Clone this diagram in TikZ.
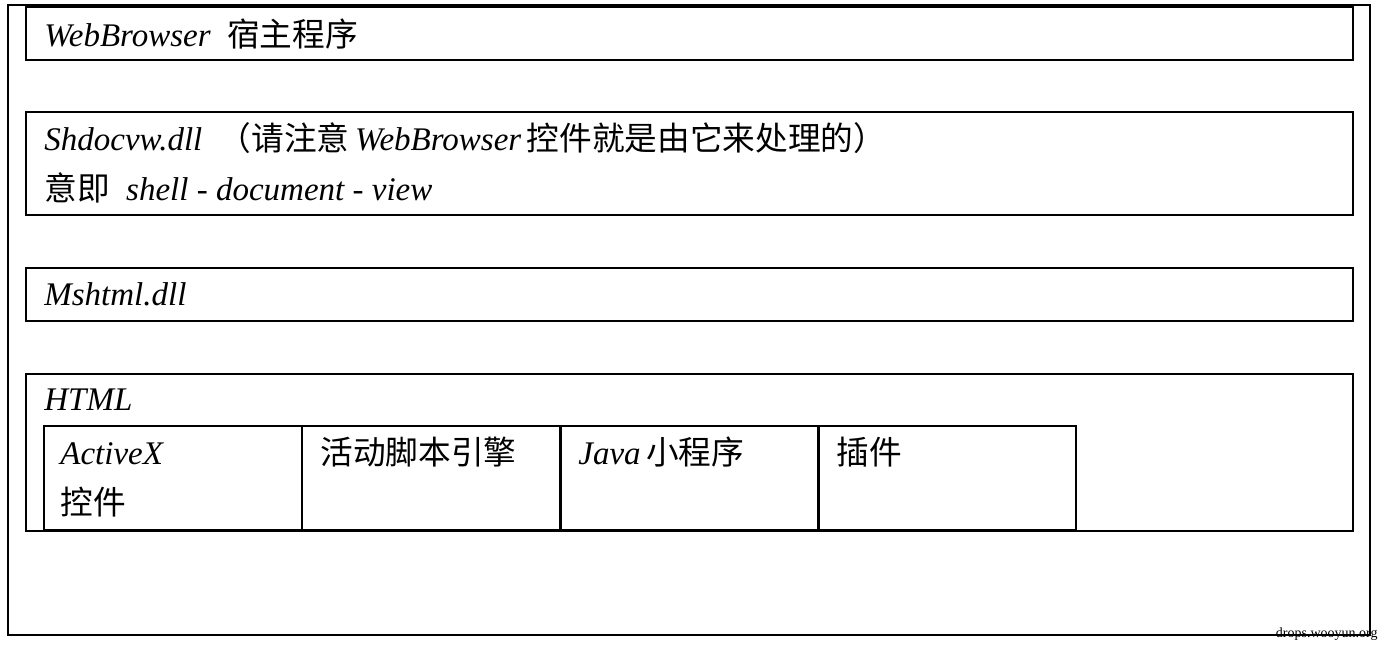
\documentclass[tikz,border=0pt]{standalone}
\usepackage{fontspec}
\setmainfont{Liberation Serif}
\newfontfamily\cjk[Scale=0.99]{Noto Sans CJK SC}

\begin{document}
\begin{tikzpicture}[x=0.5pt, y=-0.5pt,
    layer/.style={draw, line width=0.75pt},
    lbl/.style={anchor=base west, inner sep=0pt, font=\fontsize{16.5}{18}\selectfont}]
    \useasboundingbox (0,0) rectangle (1382,644);

    % Outer frame
    \draw[line width=0.75pt] (8,5) rectangle (1370,635);

    % Layers
    \draw[layer] (26,7) rectangle (1353,60);
    \draw[layer] (26,112) rectangle (1353,215);
    \draw[layer] (26,268) rectangle (1353,321);
    \draw[layer] (26,374) rectangle (1353,531);

    % Components inside HTML
    \foreach \x in {44,302,561,818}
        \draw[layer] (\x,426) rectangle ++(258,104);

    % Labels
    \node[lbl] (host) at (44,46) {\textit{WebBrowser}\ \ {\cjk 宿主程序}};
    \node[lbl] (shdocvw) at (44,150) {\textit{Shdocvw.dll}\ \ {\cjk （请注意}\,\textit{WebBrowser}\,{\cjk 控件就是由它来处理的）}};
    \node[lbl] (meaning) at (44,200) {{\cjk 意即}\ \ \textit{shell - document - view}};
    \node[lbl] (mshtml) at (44,305) {\textit{Mshtml.dll}};
    \node[lbl] (html) at (44,410) {\textit{HTML}};
    \node[lbl] (activex) at (60,464) {\textit{ActiveX}};
    \node[lbl] (activexb) at (60,514) {\cjk 控件};
    \node[lbl] (script) at (320,464) {\cjk 活动脚本引擎};
    \node[lbl] (java) at (578,464) {\textit{Java}\,{\cjk 小程序}};
    \node[lbl] (plugin) at (836,464) {\cjk 插件};

    % Watermark
    \node[anchor=base east, inner sep=0pt, font=\fontsize{7}{8}\selectfont] (mark) at (1378,637) {drops.wooyun.org};
\end{tikzpicture}
\end{document}
